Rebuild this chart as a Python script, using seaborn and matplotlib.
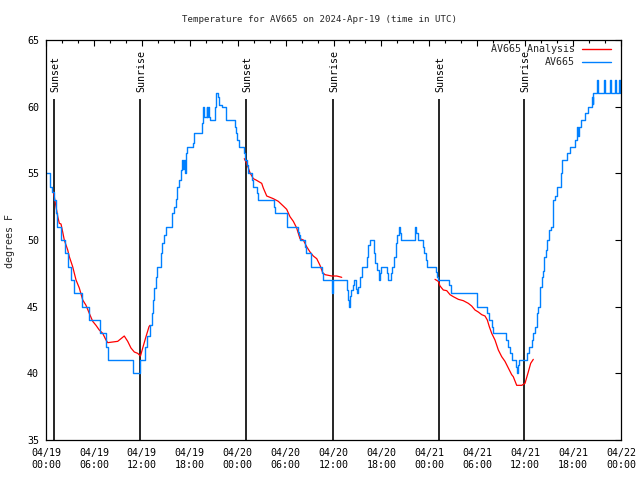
import numpy as np
import pandas as pd
import matplotlib
matplotlib.use("Agg")
import matplotlib.pyplot as plt
import matplotlib.dates as mdates
import matplotlib.transforms as mtransforms
from matplotlib.lines import Line2D
import seaborn as sns

# ---------------- data ----------------
title = "Temperature for AV665 on 2024-Apr-19 (time in UTC)"
y_label = "degrees F"
series_names = ["AV665 Analysis", "AV665"]
start_time = "2024-04-19 00:00"

# observations (hours since start, deg F) – stepped
obs_hours = [0.0, 0.45, 0.75, 0.95, 1.2, 1.35, 1.9, 2.4, 2.75, 3.1, 3.5, 4.47, 5.42,
             6.76, 7.51, 7.8, 10.86, 11.8, 12.4, 12.69, 13.02, 13.23, 13.44, 13.56,
             13.77, 13.94, 14.36, 14.56, 14.78, 14.99, 15.82, 16.07, 16.24, 16.36,
             16.65, 16.86, 17.07, 17.2, 17.3, 17.4, 17.49, 17.69, 18.45, 18.57,
             19.49, 19.7, 19.8, 20.1, 20.2, 20.3, 20.4, 20.5, 21.16, 21.29,
             21.55, 21.7, 22.0, 22.54, 23.7, 23.85, 23.96, 24.2, 24.83, 24.95,
             25.13, 25.33, 25.84, 25.96, 26.46, 26.59, 28.55, 28.65, 30.14, 30.22,
             31.51, 31.64, 31.8, 32.43, 32.56, 33.14, 34.56, 34.73, 35.8, 35.98,
             37.65, 37.86, 37.98, 38.08, 38.2, 38.4, 38.57, 38.82, 38.98, 39.1,
             39.32, 39.53, 40.15, 40.36, 40.57, 41.07, 41.2, 41.41, 41.7, 41.8,
             41.91, 42.66, 42.79, 43.16, 43.37, 43.58, 43.79, 43.99, 44.2, 44.3,
             44.4, 46.21, 46.35, 46.62, 47.17, 47.37, 47.58, 47.75, 48.8, 48.92,
             49.04, 50.5, 50.71, 53.93, 54.01, 55.26, 55.51, 55.89, 56.01, 57.56,
             57.8, 58.1, 58.31, 58.85, 59.02, 59.14, 59.27, 60.27, 60.52, 60.89,
             61.02, 61.23, 61.44, 61.65, 61.86, 62.07, 62.2, 62.4, 62.61, 62.78,
             62.99, 63.2, 63.53, 63.74, 63.95, 64.5, 64.66, 65.3, 65.61, 66.3,
             66.45, 66.55, 66.66, 66.75, 66.99, 67.49, 67.83, 68.33, 68.45, 68.53,
             68.96, 69.15, 69.9, 70.05, 70.65, 70.8, 71.2, 71.35, 71.7, 71.85]
obs_temps = [55, 54, 53.6, 53, 52, 51, 50, 49, 48, 47, 46, 45, 44,
             43, 42, 41, 40, 41, 42, 42.8, 43.6, 44.5, 45.5, 46.4,
             47.25, 48, 49, 49.75, 50.4, 51, 52, 52.5, 53.1, 54,
             54.5, 55.25, 56, 55.3, 56, 55, 56.5, 57, 57.3, 58,
             58.75, 60, 59.2, 60, 59.2, 60, 59.2, 59, 60, 61,
             60.7, 60.1, 60, 59, 58.5, 58, 57.5, 57, 56.5, 56,
             55.6, 55, 54.5, 54, 53.5, 53, 52.5, 52, 51.5, 51,
             50.6, 50.4, 50, 49.5, 49, 48, 47.5, 47, 46, 47,
             46.25, 45.5, 45, 45.8, 46.25, 46.6, 47, 46.3, 46, 46.5,
             47.25, 48, 48.75, 49.6, 50, 49, 48.25, 47.75, 47, 47.5,
             48, 47.5, 47, 47.5, 48, 48.75, 49.75, 50.4, 51, 50.5,
             50, 51, 50.5, 50, 49.5, 49, 48.5, 48, 47.6, 47.25,
             47, 46.6, 46, 45.5, 45, 44.5, 44, 43.5, 43, 42.5,
             42, 41.5, 41, 40.5, 40, 40.6, 41, 41.5, 42, 42.5,
             43, 43.5, 44.5, 45, 46.5, 47.2, 47.7, 48.75, 49.25, 50,
             50.75, 51, 53, 53.3, 54, 55, 56, 56.5, 57, 57.5,
             58, 58.5, 57.8, 58.5, 59, 59.5, 60, 60.75, 60.2, 61,
             62, 61, 62, 61, 62, 61, 62, 61, 62, 61]

# analysis (three night segments)
ana_hours = [0.91, 1.04, 1.25, 1.47, 1.67, 1.88, 2.09, 2.29, 2.72, 2.92, 3.34, 3.76,
             4.17, 4.6, 5.01, 5.42, 5.85, 6.26, 6.67, 7.1, 7.51, 7.73, 8.35, 8.98,
             9.39, 9.8, 10.23, 10.64, 11.06, 11.48, 11.83, 12.11, 12.52, 12.9, 13.02,
             24.83, 25.13, 25.54, 25.96, 26.3, 26.58, 27.01, 27.21, 27.64, 28.05,
             28.46, 29.09, 29.71, 30.14, 30.55, 30.97, 31.39, 31.8, 32.22, 32.64,
             33.06, 33.47, 33.9, 34.31, 34.65, 34.94, 35.78, 36.4, 37.03,
             48.71, 49.12, 49.34, 49.75, 50.18, 50.59, 51.0, 51.63, 52.25, 52.88,
             53.3, 53.72, 54.13, 54.56, 54.97, 55.26, 55.51, 55.81, 56.22, 56.64,
             57.06, 57.47, 57.89, 58.31, 58.51, 58.94, 59.57, 59.98, 60.39, 60.69,
             61.02]
ana_temps = [53.6, 53.25, 52.5, 51.75, 51.25, 51.2, 50.6, 50.0, 49.25, 48.75, 48.0, 47.0,
             46.4, 45.5, 45.1, 44.5, 43.9, 43.6, 43.25, 43.0, 42.5, 42.3, 42.35, 42.4,
             42.6, 42.8, 42.4, 41.9, 41.6, 41.5, 41.3, 41.9, 42.75, 43.5, 43.6,
             56.1, 55.75, 55.05, 54.6, 54.5, 54.4, 54.25, 53.9, 53.3, 53.2,
             53.1, 52.9, 52.55, 52.3, 51.75, 51.4, 50.9, 50.1, 50.0, 49.5,
             49.1, 48.8, 48.6, 48.1, 47.55, 47.4, 47.3, 47.3, 47.2,
             47.05, 46.9, 46.55, 46.25, 46.2, 45.9, 45.75, 45.55, 45.45, 45.25,
             45.05, 44.75, 44.6, 44.4, 44.3, 44.0, 43.5, 43.0, 42.5, 41.75,
             41.25, 40.9, 40.4, 39.9, 39.75, 39.1, 39.1, 39.25, 40.1, 40.75,
             41.05]
ana_segment = [1] * 35 + [2] * 29 + [3] * 31

# sunset / sunrise events (hours since start)
event_hours = [1.04, 11.8, 25.08, 35.9, 49.17, 59.8]
event_labels = ["Sunset", "Sunrise", "Sunset", "Sunrise", "Sunset", "Sunrise"]

# axis ticks
x_tick_hours = [0, 6, 12, 18, 24, 30, 36, 42, 48, 54, 60, 66, 72]
x_tick_labels = ["04/19\n00:00", "04/19\n06:00", "04/19\n12:00", "04/19\n18:00",
                 "04/20\n00:00", "04/20\n06:00", "04/20\n12:00", "04/20\n18:00",
                 "04/21\n00:00", "04/21\n06:00", "04/21\n12:00", "04/21\n18:00",
                 "04/22\n00:00"]
y_ticks = [35, 40, 45, 50, 55, 60, 65]

# ---------------- build ----------------
base = pd.Timestamp(start_time)
def to_time(h):
    return base + pd.to_timedelta(np.asarray(h, dtype=float), unit="h")

obs = pd.DataFrame({"time": to_time(obs_hours), "temp": obs_temps})
ana = pd.DataFrame({"time": to_time(ana_hours), "temp": ana_temps, "segment": ana_segment})

sns.set_style("white")
plt.rcParams["font.family"] = ["DejaVu Sans Mono", "DejaVu Sans"]

fig = plt.figure(figsize=(6.4, 4.8), dpi=100)
ax = fig.add_axes([46 / 640, 40 / 480, 575 / 640, 400 / 480])

RED = "#ff0000"
BLUE = "#0080ff"

sns.lineplot(data=ana, x="time", y="temp", units="segment", estimator=None,
             color=RED, lw=0.9, ax=ax, legend=False)
sns.lineplot(data=obs, x="time", y="temp", estimator=None, color=BLUE, lw=1.0,
             drawstyle="steps-post", ax=ax, legend=False)

ev_num = mdates.date2num(to_time(event_hours))
ax.vlines(ev_num, 35, 60.6, colors="black", lw=1.2, zorder=1)
off = mtransforms.offset_copy(ax.transData, fig=fig, x=1.5, y=0, units="dots")
for xv, lab in zip(ev_num, event_labels):
    ax.text(xv, 61.1, lab, rotation=90, ha="center", va="bottom",
            fontsize=7.2, transform=off, color="black")

ax.set_xlim(mdates.date2num(to_time([0]))[0], mdates.date2num(to_time([72]))[0])
ax.set_ylim(35, 65)
ax.set_yticks(y_ticks)
ax.set_xticks(mdates.date2num(to_time(x_tick_hours)))
ax.set_xticklabels(x_tick_labels, linespacing=1.15)
ax.set_xticks(mdates.date2num(to_time(np.arange(0, 73, 2))), minor=True)
ax.set_xlabel("")
ax.set_ylabel("")

ax.tick_params(which="both", direction="in", top=True, right=True,
               colors="black", labelsize=7.2, width=0.8)
ax.tick_params(which="major", length=4.0)
ax.tick_params(which="minor", length=2.2)
ax.tick_params(axis="x", pad=6)
ax.tick_params(axis="y", pad=5)
for sp in ax.spines.values():
    sp.set_color("black")
    sp.set_linewidth(0.9)

handles = [Line2D([], [], color=RED, lw=1.0), Line2D([], [], color=BLUE, lw=1.0)]
ax.legend(handles, series_names, loc="upper right", markerfirst=False,
          frameon=False, fontsize=7.2, handlelength=2.9, handletextpad=0.7,
          labelspacing=0.32, borderpad=0, borderaxespad=0,
          bbox_to_anchor=(611 / 640, 1 - 44 / 480), bbox_transform=fig.transFigure)

fig.text(0.5, 1 - 20 / 480, title, ha="center", va="center", fontsize=6.6)
fig.text(10 / 640, 1 - 241 / 480, y_label, rotation=90, ha="center", va="center",
         fontsize=7.2)

fig.savefig("out.png", dpi=100)
